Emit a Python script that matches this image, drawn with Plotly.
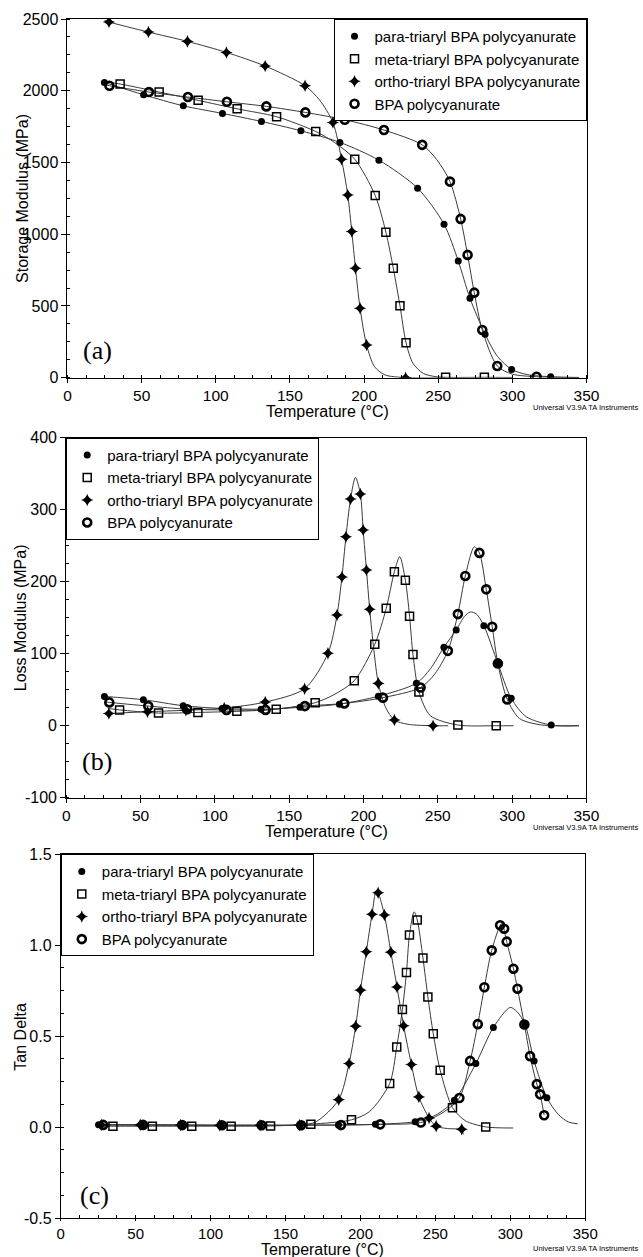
import plotly.graph_objects as go

# ---------------- Panel (a): Storage modulus (MPa) ----------------
a_para_mT = [24.9, 51.3, 78.1, 104.5, 130.8, 157.4, 183.7, 210.0, 236.1, 253.9, 263.5, 271.4, 281.6, 299.5, 325.8]
a_para_mV = [2058, 1972, 1895, 1842, 1786, 1721, 1640, 1516, 1321, 1070, 814, 554, 303, 58, 7]
a_para_cT = [24.9, 51.3, 78.1, 104.5, 130.8, 157.4, 183.7, 210.0, 236.1, 253.9, 263.5, 271.4, 281.6, 290.0, 299.5, 310.0, 325.8, 345.0]
a_para_cV = [2058, 1972, 1895, 1842, 1786, 1721, 1640, 1516, 1321, 1070, 814, 554, 303, 148, 58, 22, 7, 2]

a_meta_mT = [35.5, 61.8, 88.1, 114.4, 141.0, 167.4, 193.7, 207.5, 214.7, 219.7, 224.2, 228.3, 255.0, 281.1]
a_meta_mV = [2047, 1991, 1933, 1874, 1819, 1716, 1523, 1270, 1014, 763, 502, 244, 3, 3]
a_meta_cT = [28.0, 35.5, 61.8, 88.1, 114.4, 141.0, 167.4, 180.0, 193.7, 207.5, 214.7, 219.7, 224.2, 228.3, 233.0, 240.0, 248.0, 255.0, 281.1, 300.0]
a_meta_cV = [2058, 2047, 1991, 1933, 1874, 1819, 1716, 1640, 1523, 1270, 1014, 763, 502, 244, 100, 30, 8, 3, 3, 2]

a_ortho_mT = [28.0, 54.6, 80.9, 107.2, 133.3, 160.2, 179.0, 184.8, 189.0, 191.7, 194.2, 197.3, 201.7, 228.0]
a_ortho_mV = [2479, 2409, 2344, 2267, 2172, 2035, 1779, 1523, 1274, 1019, 763, 484, 228, 0]
a_ortho_cT = [25.0, 28.0, 54.6, 80.9, 107.2, 133.3, 160.2, 170.0, 179.0, 184.8, 189.0, 191.7, 194.2, 197.3, 201.7, 207.0, 214.0, 228.0, 255.0]
a_ortho_cV = [2490, 2479, 2409, 2344, 2267, 2172, 2035, 1935, 1779, 1523, 1274, 1019, 763, 484, 228, 78, 20, 1, 0]

a_bpa_mT = [28.3, 54.9, 81.2, 107.5, 134.1, 160.4, 187.0, 213.4, 239.2, 257.9, 265.1, 269.8, 274.3, 279.7, 289.8, 316.3]
a_bpa_mV = [2035, 1991, 1956, 1923, 1891, 1849, 1798, 1726, 1623, 1367, 1107, 856, 593, 333, 82, 7]
a_bpa_cT = [25.0, 28.3, 54.9, 81.2, 107.5, 134.1, 160.4, 187.0, 213.4, 239.2, 249.0, 257.9, 265.1, 269.8, 274.3, 279.7, 289.8, 300.0, 316.3, 330.0, 345.0]
a_bpa_cV = [2042, 2035, 1991, 1956, 1923, 1891, 1849, 1798, 1726, 1623, 1520, 1367, 1107, 856, 593, 333, 82, 25, 7, 3, 1]

# ---------------- Panel (b): Loss modulus (MPa) ----------------
b_para_mT = [25.7, 51.9, 78.7, 104.9, 131.1, 157.3, 183.8, 210.0, 235.6, 254.1, 262.4, 281.0, 290.4, 299.4, 326.3]
b_para_mV = [40.7, 36.1, 27.8, 24.0, 23.0, 25.5, 30.0, 41.0, 59.0, 109.0, 133.0, 139.0, 86.6, 38.0, 1.0]
b_para_cT = [25.7, 51.9, 78.7, 104.9, 131.1, 157.3, 183.8, 210.0, 235.6, 245.0, 254.1, 262.4, 268.0, 272.0, 276.0, 281.0, 290.4, 299.4, 309.5, 326.3, 345.0]
b_para_cV = [40.7, 36.1, 27.8, 24.0, 23.0, 25.5, 30.0, 41.0, 59.0, 79.0, 109.0, 133.0, 152.0, 158.0, 155.0, 139.0, 86.6, 38.0, 12.5, 1.0, 0.0]

b_meta_mT = [35.9, 62.1, 88.6, 114.8, 141.3, 167.5, 193.8, 207.6, 215.3, 220.8, 228.2, 231.0, 233.3, 237.3, 263.5, 289.3]
b_meta_mV = [22.0, 17.6, 18.5, 20.0, 23.0, 32.0, 62.5, 113.0, 163.0, 214.0, 202.0, 152.0, 99.0, 47.0, 1.0, 0.0]
b_meta_cT = [28.0, 35.9, 62.1, 88.6, 114.8, 141.3, 167.5, 180.0, 193.8, 207.6, 215.3, 220.8, 224.4, 228.2, 231.0, 233.3, 237.3, 245.0, 263.5, 289.3, 301.0]
b_meta_cV = [24.0, 22.0, 17.6, 18.5, 20.0, 23.0, 32.0, 43.0, 62.5, 113.0, 163.0, 214.0, 234.7, 202.0, 152.0, 99.0, 47.0, 14.0, 1.0, 0.0, 0.0]

b_ortho_mT = [28.7, 54.7, 80.5, 106.3, 133.9, 160.4, 176.1, 182.2, 185.5, 188.2, 191.3, 197.9, 199.8, 202.0, 204.2, 210.0, 220.8, 246.8]
b_ortho_mV = [17.0, 19.5, 21.5, 24.5, 32.9, 51.4, 100.5, 153.7, 206.5, 262.5, 314.8, 321.8, 271.8, 216.2, 161.6, 58.8, 7.9, 0.0]
b_ortho_cT = [28.7, 54.7, 80.5, 106.3, 133.9, 160.4, 176.1, 182.2, 185.5, 188.2, 191.3, 194.6, 197.9, 199.8, 202.0, 204.2, 207.0, 210.0, 215.0, 220.8, 230.0, 246.8, 257.0]
b_ortho_cV = [17.0, 19.5, 21.5, 24.5, 32.9, 51.4, 100.5, 153.7, 206.5, 262.5, 314.8, 344.9, 321.8, 271.8, 216.2, 161.6, 105.0, 58.8, 25.0, 7.9, 2.0, 0.0, 0.0]

b_bpa_mT = [29.0, 55.2, 81.4, 107.9, 134.1, 160.6, 187.1, 213.1, 238.4, 256.8, 263.5, 268.5, 278.0, 282.6, 286.6, 290.4, 296.7]
b_bpa_mV = [32.4, 27.3, 23.0, 22.0, 22.0, 27.3, 31.0, 39.0, 53.0, 104.0, 155.0, 208.0, 240.0, 189.4, 137.5, 86.6, 36.6]
b_bpa_cT = [26.0, 29.0, 55.2, 81.4, 107.9, 134.1, 160.6, 187.1, 213.1, 238.4, 248.0, 256.8, 263.5, 268.5, 274.6, 278.0, 282.6, 286.6, 290.4, 296.7, 305.0, 320.0, 345.0]
b_bpa_cV = [33.0, 32.4, 27.3, 23.0, 22.0, 22.0, 27.3, 31.0, 39.0, 53.0, 72.0, 104.0, 155.0, 208.0, 248.6, 240.0, 189.4, 137.5, 86.6, 36.6, 10.0, 1.0, 0.0]

# ---------------- Panel (c): Tan delta ----------------
c_para_mT = [25.2, 54.5, 80.6, 106.9, 133.2, 159.8, 185.3, 210.0, 236.5, 262.7, 277.0, 288.7, 309.9, 315.9, 324.4]
c_para_mV = [0.013, 0.012, 0.011, 0.010, 0.010, 0.011, 0.012, 0.015, 0.030, 0.147, 0.349, 0.548, 0.564, 0.364, 0.162]
c_para_cT = [25.2, 54.5, 80.6, 106.9, 133.2, 159.8, 185.3, 210.0, 236.5, 250.0, 262.7, 277.0, 288.7, 299.9, 304.5, 309.9, 315.9, 324.4, 332.0, 338.8, 345.0]
c_para_cV = [0.013, 0.012, 0.011, 0.010, 0.010, 0.011, 0.012, 0.015, 0.030, 0.065, 0.147, 0.349, 0.548, 0.658, 0.635, 0.564, 0.364, 0.162, 0.070, 0.028, 0.018]

c_meta_mT = [34.8, 61.1, 87.4, 113.7, 140.0, 166.9, 194.0, 219.5, 224.2, 228.0, 230.7, 232.7, 237.9, 241.7, 245.0, 248.6, 253.2, 261.4, 283.6]
c_meta_mV = [0.005, 0.005, 0.005, 0.005, 0.006, 0.016, 0.040, 0.240, 0.440, 0.647, 0.850, 1.056, 1.139, 0.930, 0.716, 0.513, 0.313, 0.107, 0.001]
c_meta_cT = [28.0, 34.8, 61.1, 87.4, 113.7, 140.0, 166.9, 194.0, 206.0, 219.5, 224.2, 228.0, 230.7, 232.7, 235.8, 237.9, 241.7, 245.0, 248.6, 253.2, 261.4, 270.0, 283.6, 302.0]
c_meta_cV = [0.006, 0.005, 0.005, 0.005, 0.005, 0.006, 0.016, 0.040, 0.085, 0.240, 0.440, 0.647, 0.850, 1.056, 1.184, 1.139, 0.930, 0.716, 0.513, 0.313, 0.107, 0.035, 0.001, -0.005]

c_ortho_mT = [27.0, 53.0, 80.0, 106.0, 133.0, 159.5, 185.5, 192.4, 196.8, 200.0, 203.9, 207.7, 211.8, 216.0, 220.3, 224.4, 228.8, 234.0, 239.0, 245.8, 250.5, 267.6]
c_ortho_mV = [0.012, 0.012, 0.011, 0.010, 0.010, 0.011, 0.151, 0.350, 0.555, 0.753, 0.964, 1.170, 1.289, 1.166, 0.962, 0.770, 0.557, 0.344, 0.166, 0.050, 0.005, -0.012]
c_ortho_cT = [27.0, 53.0, 80.0, 106.0, 133.0, 159.5, 170.5, 185.5, 192.4, 196.8, 200.0, 203.9, 207.7, 210.5, 211.8, 216.0, 220.3, 224.4, 228.8, 234.0, 239.0, 245.8, 250.5, 258.0, 267.6, 268.6]
c_ortho_cV = [0.012, 0.012, 0.011, 0.010, 0.010, 0.011, 0.030, 0.151, 0.350, 0.555, 0.753, 0.964, 1.170, 1.300, 1.289, 1.166, 0.962, 0.770, 0.557, 0.344, 0.166, 0.050, 0.005, -0.008, -0.015, -0.040]

c_bpa_mT = [28.3, 54.9, 81.0, 107.5, 134.0, 160.4, 187.0, 213.2, 240.3, 266.0, 273.2, 278.3, 282.7, 287.6, 293.2, 295.9, 297.6, 302.1, 304.8, 309.4, 313.2, 317.7, 319.9, 322.6]
c_bpa_mV = [0.012, 0.012, 0.011, 0.010, 0.010, 0.010, 0.011, 0.015, 0.025, 0.160, 0.364, 0.566, 0.769, 0.972, 1.110, 1.091, 1.020, 0.871, 0.761, 0.564, 0.390, 0.236, 0.180, 0.065]
c_bpa_cT = [26.0, 28.3, 54.9, 81.0, 107.5, 134.0, 160.4, 187.0, 213.2, 240.3, 255.0, 266.0, 273.2, 278.3, 282.7, 287.6, 294.3, 297.6, 302.1, 304.8, 309.4, 313.2, 317.7, 319.9, 322.6]
c_bpa_cV = [0.012, 0.012, 0.012, 0.011, 0.010, 0.010, 0.010, 0.011, 0.015, 0.025, 0.080, 0.160, 0.364, 0.566, 0.769, 0.972, 1.120, 1.020, 0.871, 0.761, 0.564, 0.390, 0.236, 0.180, 0.065]

# ---------------- Labels / ticks ----------------
series_names = ["para-triaryl BPA polycyanurate", "meta-triaryl BPA polycyanurate",
                "ortho-triaryl BPA polycyanurate", "BPA polycyanurate"]
x_tickvals = [0, 50, 100, 150, 200, 250, 300, 350]
x_ticktext = ["0", "50", "100", "150", "200", "250", "300", "350"]
a_tickvals = [0, 500, 1000, 1500, 2000, 2500]
a_ticktext = ["0", "500", "1000", "1500", "2000", "2500"]
b_tickvals = [-100, 0, 100, 200, 300, 400]
b_ticktext = ["-100", "0", "100", "200", "300", "400"]
c_tickvals = [-0.5, 0.0, 0.5, 1.0, 1.5]
c_ticktext = ["-0.5", "0.0", "0.5", "1.0", "1.5"]
y_titles = ["Storage Modulus (MPa)", "Loss Modulus (MPa)", "Tan Delta"]
panel_tags = ["(a)", "(b)", "(c)"]
x_title = "Temperature (°C)"
footer = "Universal V3.9A TA Instruments"

FONT = "Arial, Liberation Sans, sans-serif"
LINE_COLOR = "#3a3a3a"

markers = [
    dict(symbol="circle", size=7, color="black", line=dict(width=0)),
    dict(symbol="square-open", size=8, color="black", line=dict(width=1.5)),
    dict(symbol="star-diamond", size=9, color="black", line=dict(width=0)),
    dict(symbol="circle-open", size=8, color="black", line=dict(width=2.6)),
]

panels = [
    ([(a_para_cT, a_para_cV, a_para_mT, a_para_mV), (a_meta_cT, a_meta_cV, a_meta_mT, a_meta_mV),
      (a_ortho_cT, a_ortho_cV, a_ortho_mT, a_ortho_mV), (a_bpa_cT, a_bpa_cV, a_bpa_mT, a_bpa_mV)], "x", "y", "legend"),
    ([(b_para_cT, b_para_cV, b_para_mT, b_para_mV), (b_meta_cT, b_meta_cV, b_meta_mT, b_meta_mV),
      (b_ortho_cT, b_ortho_cV, b_ortho_mT, b_ortho_mV), (b_bpa_cT, b_bpa_cV, b_bpa_mT, b_bpa_mV)], "x2", "y2", "legend2"),
    ([(c_para_cT, c_para_cV, c_para_mT, c_para_mV), (c_meta_cT, c_meta_cV, c_meta_mT, c_meta_mV),
      (c_ortho_cT, c_ortho_cV, c_ortho_mT, c_ortho_mV), (c_bpa_cT, c_bpa_cV, c_bpa_mT, c_bpa_mV)], "x3", "y3", "legend3"),
]

fig = go.Figure()
for series, xa, ya, lg in panels:
    for (cT, cV, mT, mV), name, mk in zip(series, series_names, markers):
        fig.add_trace(go.Scatter(x=cT, y=cV, mode="lines", xaxis=xa, yaxis=ya,
                                 line=dict(color=LINE_COLOR, width=1, shape="spline", smoothing=0.8),
                                 showlegend=False, hoverinfo="skip"))
    for (cT, cV, mT, mV), name, mk in zip(series, series_names, markers):
        fig.add_trace(go.Scatter(x=mT, y=mV, mode="markers", xaxis=xa, yaxis=ya,
                                 marker=mk, name=name, legend=lg, showlegend=True))

def xaxis(domain, anchor, tlen, fsize):
    return dict(domain=domain, anchor=anchor, range=[0, 350], tickvals=x_tickvals, ticktext=x_ticktext,
                ticks="outside", ticklen=tlen, tickcolor="black", showline=True, linecolor="black",
                linewidth=1, mirror=True, showgrid=False, zeroline=False,
                tickfont=dict(family=FONT, size=fsize, color="black"),
                minor=dict(dtick=12.5, ticks="inside", ticklen=3, tickcolor="black", showgrid=False))

def yaxis(domain, anchor, rng, tv, tt, minor_dt):
    return dict(domain=domain, anchor=anchor, range=rng, tickvals=tv, ticktext=tt,
                ticks="outside", ticklen=5, tickcolor="black", showline=True, linecolor="black",
                linewidth=1, mirror=True, showgrid=False, zeroline=False,
                tickfont=dict(family=FONT, size=16, color="black"),
                minor=dict(dtick=minor_dt, tick0=rng[0], ticks="inside", ticklen=3, tickcolor="black", showgrid=False))

legend_common = dict(bgcolor="white", bordercolor="black", borderwidth=1,
                     font=dict(family=FONT, size=15, color="black"), traceorder="normal",
                     itemwidth=30, tracegroupgap=0)

annotations = []
yrefs = ["y", "y2", "y3"]
xrefs = ["x", "x2", "x3"]
ytitle_x = [-0.071, -0.075, -0.075]
xtitle_shift = [-34, -34, -31]
tag_pos = [(8.9, 190), (9.3, -50), (11.5, -0.375)]
for i in range(3):
    annotations.append(dict(text=y_titles[i], xref="paper", x=ytitle_x[i], yref=yrefs[i] + " domain", y=0.5,
                            textangle=-90, showarrow=False, xanchor="center", yanchor="middle",
                            font=dict(family=FONT, size=16, color="black")))
    annotations.append(dict(text=x_title, xref=xrefs[i] + " domain", x=0.5, yref=yrefs[i] + " domain", y=0,
                            yshift=xtitle_shift[i], showarrow=False, xanchor="center", yanchor="middle",
                            font=dict(family=FONT, size=16, color="black")))
    annotations.append(dict(text=footer, xref="paper", x=1.1006, yref=yrefs[i] + " domain", y=0,
                            yshift=-30, showarrow=False, xanchor="right", yanchor="middle",
                            font=dict(family=FONT, size=7.5, color="black")))
    annotations.append(dict(text=panel_tags[i], xref=xrefs[i], x=tag_pos[i][0], yref=yrefs[i], y=tag_pos[i][1],
                            showarrow=False, xanchor="left", yanchor="middle",
                            font=dict(family="Liberation Serif, Times New Roman, serif", size=26, color="black")))

fig.update_layout(
    width=643, height=1257,
    margin=dict(l=60, r=56, t=19, b=39, pad=0),
    paper_bgcolor="white", plot_bgcolor="white",
    xaxis=xaxis([0.0142, 0.9991], "y", 4, 15.5),
    yaxis=yaxis([0.7008, 1.0], "x", [0, 2500], a_tickvals, a_ticktext, 125),
    xaxis2=xaxis([0.0118, 0.9989], "y2", 4, 15.5),
    yaxis2=yaxis([0.3505, 0.6508], "x2", [-100, 400], b_tickvals, b_ticktext, 25),
    xaxis3=xaxis([0.0015, 0.9966], "y3", 2, 15),
    yaxis3=yaxis([0.0, 0.3033], "x3", [-0.5, 1.5], c_tickvals, c_ticktext, 0.125),
    legend=dict(x=0.9991, xanchor="right", y=1.0, yanchor="top", **legend_common),
    legend2=dict(x=0.0118, xanchor="left", y=0.6508, yanchor="top", **legend_common),
    legend3=dict(x=0.0015, xanchor="left", y=0.3033, yanchor="top", **legend_common),
    annotations=annotations,
    showlegend=True,
)

fig.write_html("out.html", config={"displayModeBar": False},
               post_script="document.body.style.margin='0';document.body.style.overflow='hidden';")
